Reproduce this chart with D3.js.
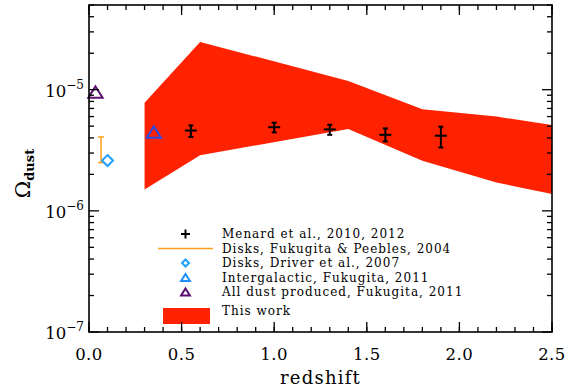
<!DOCTYPE html>
<html>
<head>
<meta charset="utf-8">
<script src="https://cdn.jsdelivr.net/npm/d3@7"></script>
<style>
  body { margin: 0; background: #fff; }
  text { font-family: "DejaVu Serif", serif; }
</style>
</head>
<body>
<svg id="chart"></svg>
<script>
// band from this work (upper / lower edges)
var bandZ     = [0.3, 0.6, 1.4, 1.8, 2.2, 2.5];
var bandUpper = [7.8e-6, 2.48e-5, 1.18e-5, 6.9e-6, 6.0e-6, 5.1e-6];
var bandLower = [1.5e-6, 2.88e-6, 4.73e-6, 2.59e-6, 1.71e-6, 1.38e-6];

// Menard et al.
var menardZ   = [0.55, 1.0, 1.3, 1.6, 1.9];
var menardVal = [4.6e-6, 4.9e-6, 4.7e-6, 4.24e-6, 4.17e-6];
var menardHi  = [5.07e-6, 5.34e-6, 5.13e-6, 4.79e-6, 4.95e-6];
var menardLo  = [4.07e-6, 4.44e-6, 4.24e-6, 3.74e-6, 3.33e-6];

// other estimates
var fpZ = 0.065, fpHi = 4.07e-6, fpLo = 2.5e-6;        // Fukugita & Peebles disks
var driverZ = 0.1, driverVal = 2.6e-6;                  // Driver disks
var igZ = 0.35, igVal = 4.4e-6;                         // intergalactic
var allZ = 0.035, allVal = 9.4e-6;                      // all dust produced

var legendLabels = [
  "Menard et al., 2010, 2012",
  "Disks, Fukugita & Peebles, 2004",
  "Disks, Driver et al., 2007",
  "Intergalactic, Fukugita, 2011",
  "All dust produced, Fukugita, 2011",
  "This work"
];

var xTicks = [0, 0.5, 1.0, 1.5, 2.0, 2.5];
var yDecades = [-7, -6, -5];

var svgWidth = 574, svgHeight = 392;
var margin = { top: 5, right: 22, bottom: 60, left: 89 };
var width = svgWidth - margin.left - margin.right;
var height = svgHeight - margin.top - margin.bottom;

var svg = d3.select('#chart')
  .attr("width", svgWidth)
  .attr("height", svgHeight);

var g = svg.append("g")
  .attr("transform", "translate(" + margin.left + "," + margin.top + ")");

var x = d3.scaleLinear().domain([0, 2.5]).range([0, width]);
var y = d3.scaleLog().domain([1e-7, 5e-5]).range([height, 0]);

// band
var bandPts = bandZ.map(function (z, i) { return [z, bandUpper[i]]; })
  .concat(bandZ.map(function (z, i) { return [z, bandLower[i]]; }).reverse());
g.append("path")
  .datum(bandPts)
  .attr("fill", "#ff2200")
  .attr("d", d3.line().x(function (d) { return x(d[0]) }).y(function (d) { return y(d[1]) }));

// Menard points
menardZ.forEach(function (z, i) {
  var cx = x(z), cy = y(menardVal[i]);
  var m = g.append("g").attr("stroke", "#000").attr("stroke-width", 2);
  m.append("line").attr("x1", cx).attr("x2", cx).attr("y1", y(menardHi[i])).attr("y2", y(menardLo[i]));
  m.append("line").attr("x1", cx - 2.5).attr("x2", cx + 2.5).attr("y1", y(menardHi[i])).attr("y2", y(menardHi[i]));
  m.append("line").attr("x1", cx - 2.5).attr("x2", cx + 2.5).attr("y1", y(menardLo[i])).attr("y2", y(menardLo[i]));
  m.append("line").attr("x1", cx - 6).attr("x2", cx + 6).attr("y1", cy).attr("y2", cy);
});

// Fukugita & Peebles range
var fp = g.append("g").attr("stroke", "#ff9f1a").attr("stroke-width", 1.5);
fp.append("line").attr("x1", x(fpZ)).attr("x2", x(fpZ)).attr("y1", y(fpHi)).attr("y2", y(fpLo));
fp.append("line").attr("x1", x(fpZ) - 3).attr("x2", x(fpZ) + 3).attr("y1", y(fpHi)).attr("y2", y(fpHi));
fp.append("line").attr("x1", x(fpZ) - 3).attr("x2", x(fpZ) + 3).attr("y1", y(fpLo)).attr("y2", y(fpLo));

function diamond(s) { return "M0," + (-s) + "L" + s + ",0L0," + s + "L" + (-s) + ",0Z"; }
function triangle(s) { return "M0," + (-s) + "L" + (s * 1.1) + "," + (s * 0.75) + "L" + (-s * 1.1) + "," + (s * 0.75) + "Z"; }

g.append("path").attr("d", diamond(5.5))
  .attr("transform", "translate(" + x(driverZ) + "," + y(driverVal) + ")")
  .attr("fill", "none").attr("stroke", "#1ea0ff").attr("stroke-width", 2);
g.append("path").attr("d", triangle(6.5))
  .attr("transform", "translate(" + x(igZ) + "," + y(igVal) + ")")
  .attr("fill", "none").attr("stroke", "#2a4ae6").attr("stroke-width", 2);
g.append("path").attr("d", triangle(6.5))
  .attr("transform", "translate(" + x(allZ) + "," + y(allVal) + ")")
  .attr("fill", "none").attr("stroke", "#5a0f6e").attr("stroke-width", 2);

// legend
var lx = 133, ly = 229, dy = 14.5;
var leg = g.append("g");
legendLabels.forEach(function (t, i) {
  var yy = i < 5 ? ly + i * dy : 306;
  leg.append("text").attr("x", lx).attr("y", yy).attr("dy", "0.35em")
    .attr("font-size", 12).attr("letter-spacing", 1.0).attr("fill", "#000").text(t);
});
var s0 = leg.append("g").attr("stroke", "#000").attr("stroke-width", 2);
s0.append("line").attr("x1", 92).attr("x2", 101).attr("y1", ly).attr("y2", ly);
s0.append("line").attr("x1", 96.5).attr("x2", 96.5).attr("y1", ly - 4.5).attr("y2", ly + 4.5);
leg.append("line").attr("x1", 69).attr("x2", 124).attr("y1", ly + dy).attr("y2", ly + dy)
  .attr("stroke", "#ff9f1a").attr("stroke-width", 1.5);
leg.append("path").attr("d", diamond(3.5))
  .attr("transform", "translate(96.5," + (ly + 2 * dy) + ")")
  .attr("fill", "none").attr("stroke", "#1ea0ff").attr("stroke-width", 2);
leg.append("path").attr("d", triangle(4))
  .attr("transform", "translate(96.5," + (ly + 3 * dy + 0.5) + ")")
  .attr("fill", "none").attr("stroke", "#1e8fff").attr("stroke-width", 2);
leg.append("path").attr("d", triangle(4))
  .attr("transform", "translate(96.5," + (ly + 4 * dy + 0.5) + ")")
  .attr("fill", "none").attr("stroke", "#5a0f6e").attr("stroke-width", 2);
leg.append("rect").attr("x", 74).attr("y", 303).attr("width", 47).attr("height", 16)
  .attr("fill", "#ff2200");

// axes: ticks inward on all four sides
var xMinor = d3.range(0, 2.51, 0.1);
var yMinor = [];
[-7, -6, -5].forEach(function (e) {
  for (var k = 2; k <= 9; k++) { var v = k * Math.pow(10, e); if (v <= 5e-5) yMinor.push(v); }
});

function tickSet(sel, vals, len, side) {
  vals.forEach(function (v) {
    if (side === "bottom") sel.append("line").attr("x1", x(v)).attr("x2", x(v)).attr("y1", height).attr("y2", height - len);
    if (side === "top") sel.append("line").attr("x1", x(v)).attr("x2", x(v)).attr("y1", 0).attr("y2", len);
    if (side === "left") sel.append("line").attr("x1", 0).attr("x2", len).attr("y1", y(v)).attr("y2", y(v));
    if (side === "right") sel.append("line").attr("x1", width).attr("x2", width - len).attr("y1", y(v)).attr("y2", y(v));
  });
}
var ax = g.append("g").attr("stroke", "#000").attr("stroke-width", 1.3);
var yMajor = yDecades.map(function (e) { return Math.pow(10, e); });
["bottom", "top"].forEach(function (s) { tickSet(ax, xTicks, 10, s); tickSet(ax, xMinor, 5, s); });
["left", "right"].forEach(function (s) { tickSet(ax, yMajor, 10, s); tickSet(ax, yMinor, 5, s); });
g.append("rect").attr("width", width).attr("height", height)
  .attr("fill", "none").attr("stroke", "#000").attr("stroke-width", 1.6);

// tick labels
xTicks.forEach(function (v) {
  g.append("text").attr("x", x(v)).attr("y", height + 28)
    .attr("text-anchor", "middle").attr("font-size", 16.5).attr("letter-spacing", 0.5)
    .text(d3.format(".1f")(v));
});
yDecades.forEach(function (e) {
  var t = g.append("text").attr("x", -5).attr("y", y(Math.pow(10, e)) + 7)
    .attr("text-anchor", "end").attr("font-size", 16.5);
  t.append("tspan").text("10");
  t.append("tspan").attr("dy", -8).attr("font-size", 12).text("\u2212" + (-e));
});

// axis titles
g.append("text").attr("x", width / 2).attr("y", height + 52)
  .attr("text-anchor", "middle").attr("font-size", 18).attr("letter-spacing", 1.2).text("redshift");
var yl = g.append("text").attr("transform", "translate(-59," + (height / 2 + 5) + ") rotate(-90)")
  .attr("text-anchor", "middle").attr("font-size", 21);
yl.append("tspan").text("\u03a9");
yl.append("tspan").attr("dy", 4).attr("font-size", 13).attr("font-weight", "bold").text("dust");
</script>
</body>
</html>
